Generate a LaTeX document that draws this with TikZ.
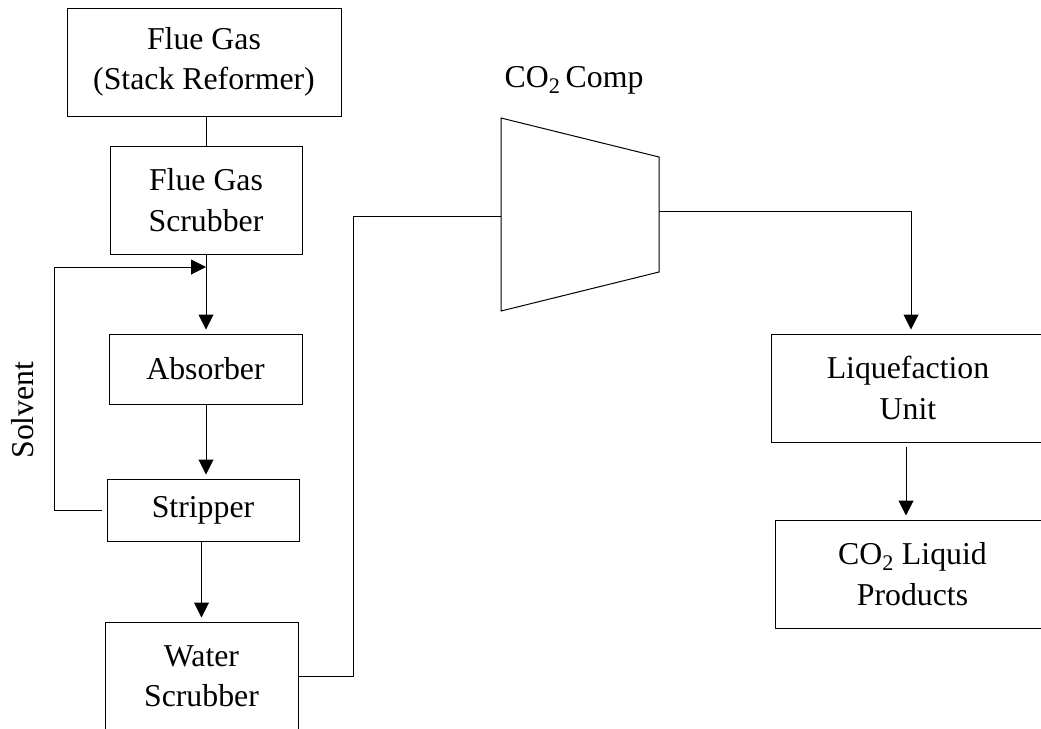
\documentclass[tikz,border=0pt]{standalone}
\usepackage{fontspec}
\setmainfont{Liberation Serif}
\usetikzlibrary{arrows.meta}

\begin{document}
\begin{tikzpicture}[x=1pt,y=-1pt,
  unit/.style={draw, line width=1pt, align=center, inner sep=0pt,
    font=\fontsize{31.8}{40.5}\selectfont},
  flow/.style={line width=1pt, -{Triangle[length=15pt,width=15pt]}, shorten >=4pt},
  pipe/.style={line width=1pt}]
\useasboundingbox (0,0) rectangle (1041,728);
% units on the left
\node[unit, minimum width=274pt, minimum height=108pt] (flue) at (204,62) {Flue Gas\\(Stack Reformer)};
\node[unit, minimum width=192pt, minimum height=108pt] (scrub) at (206,200) {Flue Gas\\Scrubber};
\node[unit, minimum width=193pt, minimum height=70pt] (absorb) at (205.5,369) {Absorber};
\node[unit, minimum width=192pt, minimum height=62pt] (strip) at (203,510) {Stripper};
\node[unit, minimum width=193pt, minimum height=108pt] (water) at (201.5,676) {Water\\Scrubber};
\node[rotate=90, font=\fontsize{31.8}{40.5}\selectfont] (solv) at (23,410) {Solvent};
% compressor
\coordinate (c1) at (501,118);
\coordinate (c2) at (659,157);
\coordinate (c3) at (659,272);
\coordinate (c4) at (501,311);
\coordinate (compin) at (501,216);
\coordinate (compout) at (659,211);
\draw[pipe] (c1) -- (c2) -- (c3) -- (c4) -- cycle;
\node[font=\fontsize{31.8}{40.5}\selectfont] (comp) at (574,80) {CO\textsubscript{2}\,Comp};
% units on the right
\node[unit, minimum width=274pt, minimum height=108pt] (liq) at (908,388) {Liquefaction\\Unit};
\node[unit, minimum width=275pt, minimum height=108pt] (prod) at (912.5,574) {CO\textsubscript{2} Liquid\\Products};
% streams
\draw[pipe] (flue.south -| scrub.north) -- (scrub.north);
\draw[flow] (scrub.south) -- (absorb.north -| scrub.south);
\draw[flow] (absorb.south -| scrub.south) -- (strip.north -| scrub.south);
\draw[flow] (strip.south -| water.north) -- (water.north);
\coordinate (loop) at (54,267);
\draw[pipe, -{Triangle[length=15pt,width=15pt]}] ([xshift=-5pt]strip.west) -| (loop) -- (scrub.south |- loop);
\draw[pipe] (water.east) -- (353,676) |- (compin);
\draw[flow] (compout) -| ([xshift=3pt]liq.north);
\draw[flow] ([yshift=-4pt]liq.south -| 906,0) -- (prod.north -| 906,0);
\end{tikzpicture}
\end{document}
